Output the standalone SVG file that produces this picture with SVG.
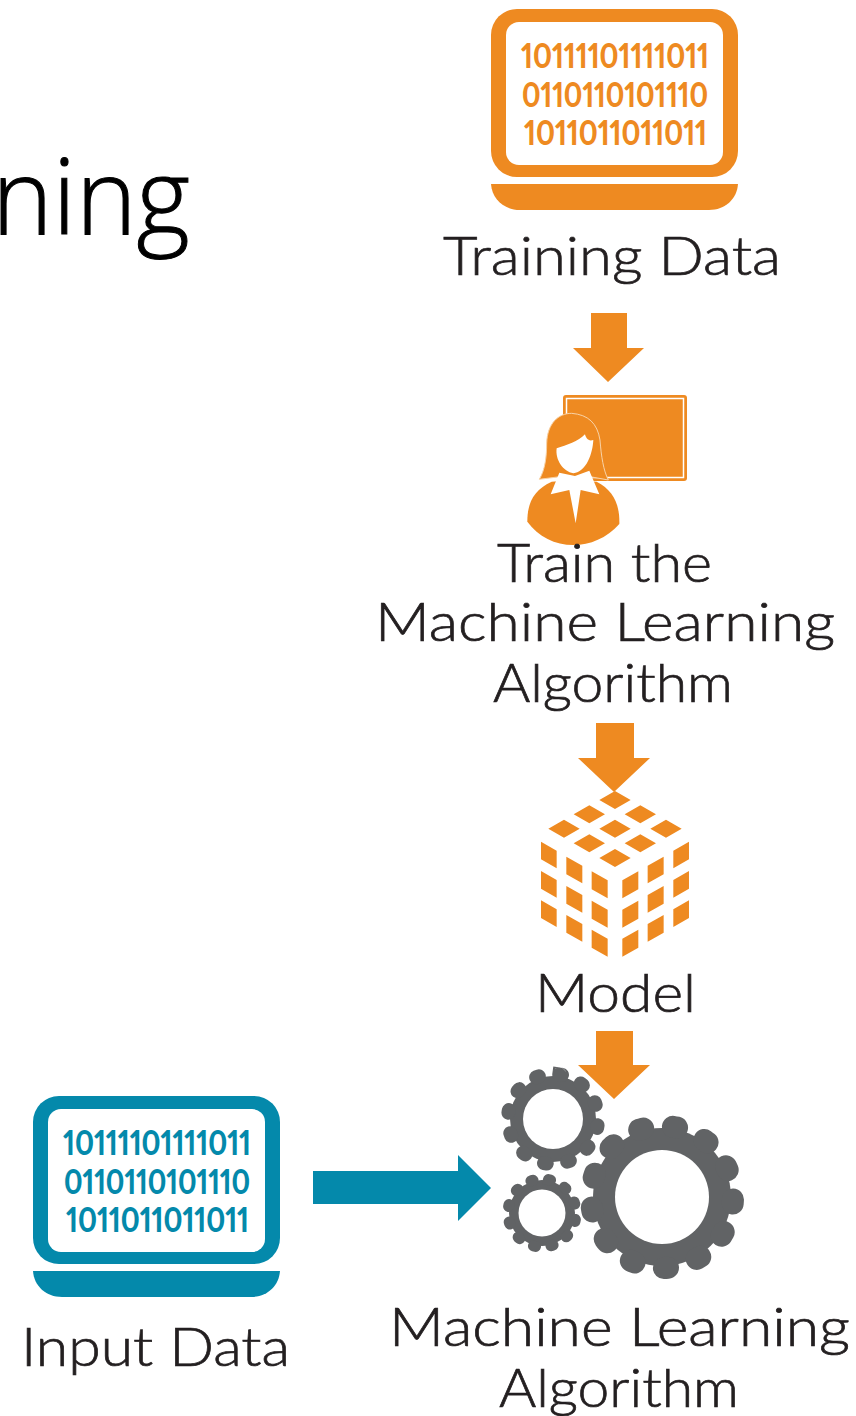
<svg xmlns="http://www.w3.org/2000/svg" width="856" height="1416" viewBox="0 0 856 1416">
<style>
.o{fill:#EE8A21}.t{fill:#0489AB}.w{fill:#fff}.k{fill:#616365}
.lb{font-family:"Lato","Liberation Sans",sans-serif;font-weight:300;font-size:54px;fill:#231F20;stroke:#231F20;stroke-width:.7px}
.bin{font-family:"Lato","Liberation Sans",sans-serif;font-weight:900;font-size:35px;font-variant-numeric:proportional-nums;font-feature-settings:"pnum" 1}
.title{font-family:"Open Sans","Liberation Sans",sans-serif;font-weight:300;font-size:105px;fill:#000;stroke:#000;stroke-width:1px}
.tooth{fill:none;stroke:#616365;stroke-linecap:round;stroke-dasharray:.12 .88}
</style>
<defs>
<g id="laptop">
<rect x="0" y="0" width="247" height="168" rx="26"/>
<rect class="w" x="15" y="13" width="217" height="143" rx="13"/>
<path d="M0 175H247C246 190 234 201 218 201H29C13 201 1 190 0 175Z"/>
</g>
</defs>
<text class="title" x="-8" y="234" textLength="198" lengthAdjust="spacingAndGlyphs">ning</text>
<g id="training-data">
<use href="#laptop" x="491" y="9" class="o"/>
<text class="bin o" x="521" y="68" textLength="188" lengthAdjust="spacingAndGlyphs">10111101111011</text>
<text class="bin o" x="522" y="107" textLength="186" lengthAdjust="spacingAndGlyphs">0110110101110</text>
<text class="bin o" x="524" y="145" textLength="183" lengthAdjust="spacingAndGlyphs">1011011011011</text>
<text class="lb" x="443" y="275" textLength="338" lengthAdjust="spacingAndGlyphs">Training Data</text>
</g>
<g id="train-algorithm">
<rect class="o" x="563" y="395" width="124" height="86" rx="3"/>
<rect x="566.500" y="398.500" width="117" height="79" fill="none" stroke="#fff" stroke-width="1.500"/>
<g transform="translate(510 380) scale(.3333)">
<path class="o" d="M88 298C105 270 110 230 110 190C112 130 145 100 185 100C235 104 262 130 270 180C274 230 280 270 295 300L240 290H150Z" stroke="#F8D3A8" stroke-width="3"/>
<path class="o" d="M52 425C52 370 70 330 125 305L195 300L260 305C310 330 330 375 328 432C290 475 240 495 190 495C135 495 85 470 52 425Z"/>
<path class="w" d="M148 278L122 343L178 330L197 430L212 330L268 343L238 272L195 288Z"/>
<path class="w" d="M140 205C170 195 205 185 225 163C228 175 235 185 250 180C248 220 230 275 190 280C160 275 135 240 140 205Z"/>
</g>
<text class="lb" x="497" y="582" textLength="215" lengthAdjust="spacingAndGlyphs">Train the</text>
<text class="lb" x="375" y="641" textLength="460" lengthAdjust="spacingAndGlyphs">Machine Learning</text>
<text class="lb" x="493" y="702" textLength="240" lengthAdjust="spacingAndGlyphs">Algorithm</text>
</g>
<g id="model">
<path class="o" transform="translate(530 780) scale(.3333)" d="M255 33l47 27l-47 27l-47-27zM178 76l47 27l-47 27l-47-27zM331 76l47 27l-47 27l-47-27zM102 119l47 27l-47 27l-47-27zM255 119l47 27l-47 27l-47-27zM408 119l47 27l-47 27l-47-27zM178 163l47 27l-47 27l-47-27zM331 163l47 27l-47 27l-47-27zM255 207l47 27l-47 27l-47-27zM33 185l47 27v53l-47-27zM109 230l48 27v53l-48-27zM185 274l48 27v54l-48-27zM33 273l47 27v53l-47-27zM109 318l48 27v53l-48-27zM185 362l48 27v54l-48-27zM33 361l47 27v53l-47-27zM109 405l48 27v53l-48-27zM185 449l48 27v54l-48-27zM477 185l-47 27v53l47-27zM401 230l-48 27v53l48-27zM325 274l-48 27v54l48-27zM477 273l-47 27v53l47-27zM401 318l-48 27v53l48-27zM325 362l-48 27v54l48-27zM477 361l-47 27v53l47-27zM401 405l-48 27v53l48-27zM325 449l-48 27v54l48-27z"/>
<text class="lb" x="535" y="1012" textLength="161" lengthAdjust="spacingAndGlyphs">Model</text>
</g>
<g id="machine-learning-algorithm">
<circle class="k" cx="553" cy="1119" r="43"/>
<circle class="tooth" cx="553" cy="1119" r="45" pathLength="12" stroke-width="14" transform="rotate(8 553 1119)"/>
<circle class="w" cx="553" cy="1119" r="30"/>
<circle class="k" cx="542" cy="1213" r="33"/>
<circle class="tooth" cx="542" cy="1213" r="34" pathLength="12" stroke-width="11" transform="rotate(11 542 1213)"/>
<circle class="w" cx="542" cy="1213" r="23.500"/>
<circle class="k" cx="662" cy="1197" r="69"/>
<circle class="tooth" cx="662" cy="1197" r="71" pathLength="13" stroke-width="22" transform="rotate(2 662 1197)"/>
<circle class="w" cx="662" cy="1197" r="47"/>
<text class="lb" x="389" y="1346" textLength="461" lengthAdjust="spacingAndGlyphs">Machine Learning</text>
<text class="lb" x="499" y="1407" textLength="240" lengthAdjust="spacingAndGlyphs">Algorithm</text>
</g>
<g id="input-data">
<use href="#laptop" x="33" y="1096" class="t"/>
<text class="bin t" x="63" y="1155" textLength="188" lengthAdjust="spacingAndGlyphs">10111101111011</text>
<text class="bin t" x="64" y="1194" textLength="186" lengthAdjust="spacingAndGlyphs">0110110101110</text>
<text class="bin t" x="66" y="1232" textLength="183" lengthAdjust="spacingAndGlyphs">1011011011011</text>
<text class="lb" x="21" y="1366" textLength="269" lengthAdjust="spacingAndGlyphs">Input Data</text>
</g>
<g id="connectors">
<path class="o" d="M591 313H627V348H644L608 382L573 348H591Z"/>
<path class="o" d="M596 723H634V758H650L614 792L578 758H596Z"/>
<path class="o" d="M596 1031H633V1065H650L614 1099L578 1065H596Z"/>
<path class="t" d="M313 1171H458V1155L491 1188L458 1221V1204H313Z"/>
</g>
</svg>
